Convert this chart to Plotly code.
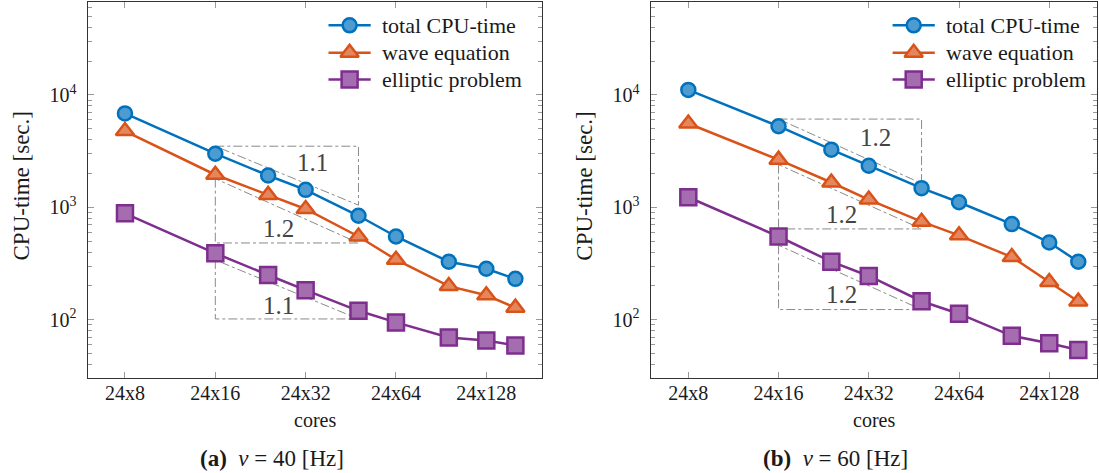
import math
import plotly.graph_objects as go

# Nodes used in the strong-scaling runs (24 cores per node)
nodes = [8, 16, 24, 32, 48, 64, 96, 128, 160]
tick_nodes = [8, 16, 32, 64, 128]
tick_labels = ["24x8", "24x16", "24x32", "24x64", "24x128"]

# CPU-time [sec.] at nu = 40 Hz
total_40 = [6850, 3000, 1920, 1430, 841, 550, 328, 284, 231]
wave_40 = [4770, 1950, 1290, 966, 550, 342, 199, 165, 128]
elliptic_40 = [884, 390, 250, 183, 120, 94.6, 69.5, 65.3, 58.9]

# CPU-time [sec.] at nu = 60 Hz
total_60 = [11090, 5270, 3260, 2345, 1480, 1109, 709, 486, 328]
wave_60 = [5570, 2655, 1663, 1172, 745, 563, 361, 216, 145]
elliptic_60 = [1229, 550, 328, 245, 146, 113, 71.9, 61.8, 53.8]

# Slope reference triangles: (orientation, slope, upper y value)
slope_span = (16, 48)
triangles_40 = [("upper", 1.1, 3500), ("lower", 1.2, 1800), ("lower", 1.1, 340)]
triangles_60 = [("upper", 1.2, 6100), ("lower", 1.2, 2400), ("lower", 1.2, 460)]

series_names = ["total CPU-time", "wave equation", "elliptic problem"]

W, H = 1099, 473
FONT = "'Liberation Serif', 'DejaVu Serif', serif"
TXT = "#1a1a1a"
LW = 2.5

styles = [
    dict(line="#0072BD", fill="#4C9CD1", symbol="circle", size=14),
    dict(line="#D95319", fill="#E4875E", symbol="triangle-up", size=16),
    dict(line="#7E2F8E", fill="#A56DB0", symbol="square", size=16),
]


def px_x(p):
    return p / W


def px_y(p):
    return 1 - p / H


fig = go.Figure()
annotations = []


def add_panel(idx, series, triangles):
    xa = "x" if idx == 1 else "x2"
    ya = "y" if idx == 1 else "y2"
    x0, x1 = slope_span
    lx0, lx1 = math.log10(x0), math.log10(x1)
    for kind, slope, ytop in triangles:
        ybot = ytop / (x1 / x0) ** slope
        if kind == "upper":
            xs, ys = [x0, x1, x1, x0], [ytop, ytop, ybot, ytop]
            fx, fy = 0.68, 0.28
        else:
            xs, ys = [x0, x0, x1, x0], [ytop, ybot, ybot, ytop]
            fx, fy = 0.44, 0.77
        fig.add_trace(go.Scatter(
            x=xs, y=ys, mode="lines", xaxis=xa, yaxis=ya, showlegend=False,
            hoverinfo="skip",
            line=dict(color="#8a8a8a", width=1, dash="dashdot"),
        ))
        lty, lby = math.log10(ytop), math.log10(ybot)
        annotations.append(dict(
            x=lx0 + fx * (lx1 - lx0), y=lty - fy * (lty - lby),
            xref=xa, yref=ya, text=f"{slope:.1f}", showarrow=False,
            font=dict(family=FONT, size=25, color="#444444"),
        ))
    for name, vals, st in zip(series_names, series, styles):
        fig.add_trace(go.Scatter(
            x=nodes, y=vals, name=name, mode="lines+markers",
            xaxis=xa, yaxis=ya, showlegend=False,
            line=dict(color=st["line"], width=LW),
            marker=dict(symbol=st["symbol"], size=st["size"], color=st["fill"],
                        opacity=1, line=dict(color=st["line"], width=LW)),
        ))


add_panel(1, [total_40, wave_40, elliptic_40], triangles_40)
add_panel(2, [total_60, wave_60, elliptic_60], triangles_60)

# Legend keys drawn on a pixel-unit overlay axis (x3/y3)
legend_rows = [25.3, 52.8, 79.5]
legend_boxes = [(328.5, 370.7, 379.5), (892.6, 934.8, 943.5)]
for l0, l1, tx in legend_boxes:
    for row, name, st in zip(legend_rows, series_names, styles):
        fig.add_trace(go.Scatter(
            x=[l0, l1], y=[row, row], mode="lines",
            xaxis="x3", yaxis="y3", showlegend=False, hoverinfo="skip",
            line=dict(color=st["line"], width=LW),
        ))
        fig.add_trace(go.Scatter(
            x=[(l0 + l1) / 2], y=[row], mode="markers",
            xaxis="x3", yaxis="y3", showlegend=False, hoverinfo="skip",
            marker=dict(symbol=st["symbol"], size=st["size"], color=st["fill"],
                        opacity=1, line=dict(color=st["line"], width=LW)),
        ))
        annotations.append(dict(
            x=px_x(tx), y=px_y(row), xref="paper", yref="paper", text=name,
            showarrow=False, xanchor="left", yanchor="middle",
            font=dict(family=FONT, size=22, color=TXT)))

# Axis geometry (pixels)
left_dom = (87.5, 541.7)
right_dom = (650.7, 1097.0)
top_px, bottom_px = 1.7, 378.0

ymajor = [100, 1000, 10000]
ymajor_text = ["10<sup>2</sup>", "10<sup>3</sup>", "10<sup>4</sup>"]
yminor = [m * 10 ** e for e in range(1, 5) for m in range(2, 10)]

common_x = dict(
    type="log", tickmode="array", tickvals=tick_nodes, ticktext=tick_labels,
    ticks="inside", ticklen=6, tickcolor="#9a9a9a", tickwidth=1,
    showline=True, linecolor="#333333", linewidth=1.2, mirror="ticks",
    showgrid=False, zeroline=False, automargin=False,
    tickfont=dict(family=FONT, size=20, color=TXT), ticklabelstandoff=-3,
)
common_y = dict(
    type="log", range=[1.481, 4.830], tickmode="array", tickvals=ymajor,
    ticktext=ymajor_text, ticks="inside", ticklen=6, tickcolor="#9a9a9a",
    tickwidth=1, showline=True, linecolor="#333333", linewidth=1.2,
    mirror="ticks", showgrid=False, zeroline=False, automargin=False,
    minor=dict(tickmode="array", tickvals=yminor, ticks="inside", ticklen=4,
               tickcolor="#9a9a9a", tickwidth=1, showgrid=False),
    tickfont=dict(family=FONT, size=20, color=TXT), ticklabelstandoff=6,
    domain=[px_y(bottom_px), px_y(top_px)],
)
hidden = dict(visible=False, showgrid=False, zeroline=False, fixedrange=True,
              domain=[0, 1])

fig.update_layout(
    width=W, height=H, margin=dict(l=0, r=0, t=0, b=0),
    paper_bgcolor="white", plot_bgcolor="rgba(0,0,0,0)",
    xaxis=dict(common_x, domain=[px_x(left_dom[0]), px_x(left_dom[1])],
               range=[0.7782, 2.2918], anchor="y"),
    yaxis=dict(common_y, anchor="x"),
    xaxis2=dict(common_x, domain=[px_x(right_dom[0]), px_x(right_dom[1])],
                range=[0.7776, 2.2665], anchor="y2"),
    yaxis2=dict(common_y, anchor="x2"),
    xaxis3=dict(hidden, range=[0, W], anchor="y3"),
    yaxis3=dict(hidden, range=[H, 0], anchor="x3"),
    showlegend=False,
)

# Axis titles and sub-captions
captions = ["<b>(a)</b>  <i>ν</i> = 40 [Hz]", "<b>(b)</b>  <i>ν</i> = 60 [Hz]"]
caption_x = [272, 835]
for dom, cap, cx in zip([left_dom, right_dom], captions, caption_x):
    annotations.append(dict(
        x=px_x((dom[0] + dom[1]) / 2), y=px_y(420), xref="paper", yref="paper",
        text="cores", showarrow=False, xanchor="center", yanchor="middle",
        font=dict(family=FONT, size=20, color=TXT)))
    annotations.append(dict(
        x=px_x(dom[0] - 67), y=px_y(186), xref="paper",
        yref="paper", text="CPU-time [sec.]", textangle=-90, showarrow=False,
        xanchor="center", yanchor="middle",
        font=dict(family=FONT, size=23, color=TXT)))
    annotations.append(dict(
        x=px_x(cx), y=px_y(458), xref="paper", yref="paper", text=cap,
        showarrow=False, xanchor="center", yanchor="middle",
        font=dict(family=FONT, size=23, color=TXT)))

fig.update_layout(annotations=annotations)
fig.write_html("out.html")
